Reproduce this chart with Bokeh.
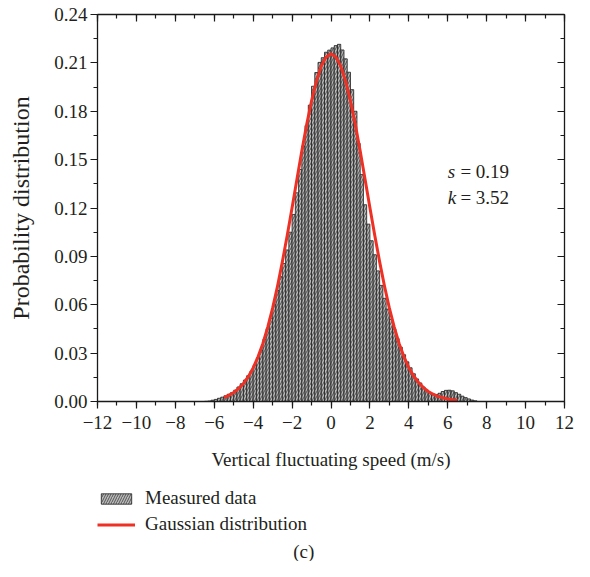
from bokeh.plotting import figure
from bokeh.layouts import column
from bokeh.models import (ColumnDataSource, Range1d, LinearAxis, SingleIntervalTicker,
                          Legend, LegendItem, Label, CustomJSTickFormatter)
from bokeh.embed import file_html
from bokeh.resources import INLINE

# ---------------- data ----------------
bin_start = -6.5
bin_width = 1.0 / 6.0
measured = [
    0.0001, 0.0003, 0.0008, 0.0013, 0.0020, 0.0027, 0.0035, 0.0045, 0.0055, 0.0070,
    0.0090, 0.0110, 0.0133, 0.0160, 0.0187, 0.0224, 0.0271, 0.0319, 0.0385, 0.0451,
    0.0517, 0.0600, 0.0688, 0.0774, 0.0856, 0.0940, 0.1050, 0.1160, 0.1294, 0.1439,
    0.1585, 0.1712, 0.1838, 0.1955, 0.2040, 0.2103, 0.2132, 0.2166, 0.2179, 0.2193,
    0.2207, 0.2215, 0.2180, 0.2125, 0.2042, 0.1934, 0.1800, 0.1600, 0.1407, 0.1220,
    0.1100, 0.0997, 0.0910, 0.0810, 0.0720, 0.0640, 0.0573, 0.0510, 0.0450, 0.0390,
    0.0337, 0.0290, 0.0246, 0.0209, 0.0172, 0.0140, 0.0115, 0.0090, 0.0070, 0.0055,
    0.0045, 0.0043, 0.0051, 0.0062, 0.0069, 0.0070, 0.0066, 0.0055, 0.0045, 0.0033,
    0.0024, 0.0016, 0.0009, 0.0004,
]
gauss_x = [-5.5, -5.25, -5.0, -4.75, -4.5, -4.25, -4.0, -3.75, -3.5, -3.25, -3.0, -2.75,
           -2.5, -2.25, -2.0, -1.75, -1.5, -1.25, -1.0, -0.75, -0.5, -0.25, 0.0,
           0.25, 0.5, 0.75, 1.0, 1.25, 1.5, 1.75, 2.0, 2.25, 2.5, 2.75, 3.0, 3.25,
           3.5, 3.75, 4.0, 4.25, 4.5, 4.75, 5.0, 5.25, 5.5, 5.75, 6.0, 6.25, 6.5]
gauss_y = [0.0026, 0.0038, 0.0056, 0.0080, 0.0112, 0.0154, 0.0208, 0.0277, 0.0360, 0.0461,
           0.0579, 0.0715, 0.0866, 0.1030, 0.1202, 0.1379, 0.1553, 0.1717, 0.1864, 0.1987,
           0.2080, 0.2137, 0.2157,
           0.2137, 0.2080, 0.1987, 0.1864, 0.1717, 0.1553, 0.1379, 0.1202, 0.1030, 0.0866,
           0.0715, 0.0579, 0.0461, 0.0360, 0.0277, 0.0210, 0.0158, 0.0118, 0.0086, 0.0062,
           0.0045, 0.0032, 0.0023, 0.0016, 0.0011, 0.0007]
skewness = "0.19"
kurtosis = "3.52"
x_ticks = [-12, -10, -8, -6, -4, -2, 0, 2, 4, 6, 8, 10, 12]
x_tick_labels = ["\u221212", "\u221210", "\u22128", "\u22126", "\u22124", "\u22122",
                 "0", "2", "4", "6", "8", "10", "12"]
y_ticks = [0.0, 0.03, 0.06, 0.09, 0.12, 0.15, 0.18, 0.21, 0.24]
y_tick_labels = ["0.00", "0.03", "0.06", "0.09", "0.12", "0.15", "0.18", "0.21", "0.24"]
series_names = ["Measured data", "Gaussian distribution"]
x_title = "Vertical fluctuating speed (m/s)"
y_title = "Probability distribution"
panel_tag = "(c)"

# ---------------- style ----------------
FONT = "Liberation Serif"
TXT = "#231f20"
RED = "#ee3124"
FS = "19px"
BAR_STYLE = dict(fill_color="#bababa", line_color="#262626", line_width=0.85,
                 hatch_pattern="/", hatch_color="#2a2a2a", hatch_scale=5, hatch_weight=0.7)
LINE_STYLE = dict(line_color=RED, line_width=3, line_join="round")

centers = [bin_start + (i + 0.5) * bin_width for i in range(len(measured))]
src = ColumnDataSource(dict(x=centers, top=measured))
gsrc = ColumnDataSource(dict(x=gauss_x, y=gauss_y))

p = figure(width=574, height=480,
           x_range=Range1d(-12, 12), y_range=Range1d(0, 0.24),
           output_backend="svg", toolbar_location=None,
           min_border_left=97, min_border_top=14, min_border_right=9, min_border_bottom=79)
p.xgrid.visible = False
p.ygrid.visible = False
p.outline_line_color = None
p.background_fill_color = "white"
p.border_fill_color = "white"

bars = p.vbar(x="x", top="top", width=bin_width, bottom=0, source=src, **BAR_STYLE)
curve = p.line(x="x", y="y", source=gsrc, **LINE_STYLE)

def style_axis(ax, labels=True, outward=True):
    ax.axis_line_color = "#1a1a1a"
    ax.axis_line_width = 1.3
    ax.major_tick_line_color = "#1a1a1a"
    ax.minor_tick_line_color = "#1a1a1a"
    ax.major_tick_line_width = 1.2
    ax.minor_tick_line_width = 1.2
    if outward:
        ax.major_tick_out, ax.major_tick_in = 7, 0
        ax.minor_tick_out, ax.minor_tick_in = 4, 0
    else:
        ax.major_tick_out, ax.major_tick_in = 0, 7
        ax.minor_tick_out, ax.minor_tick_in = 0, 4
    ax.major_label_text_font = FONT
    ax.major_label_text_font_size = FS
    ax.major_label_text_color = TXT
    ax.axis_label_text_font = FONT
    ax.axis_label_text_font_size = FS
    ax.axis_label_text_font_style = "normal"
    ax.axis_label_text_color = TXT
    if not labels:
        ax.formatter = CustomJSTickFormatter(code="return ''")

xa = p.xaxis[0]
xa.ticker = SingleIntervalTicker(interval=2, num_minor_ticks=2)
style_axis(xa)
xa.major_label_overrides = {t: l for t, l in zip(x_ticks, x_tick_labels)}
xa.major_label_standoff = 7
xa.axis_label = x_title
xa.axis_label_standoff = 17

ya = p.yaxis[0]
ya.ticker = SingleIntervalTicker(interval=0.03, num_minor_ticks=2)
style_axis(ya)
ya.major_label_overrides = {t: l for t, l in zip(y_ticks, y_tick_labels)}
ya.major_label_standoff = 3
ya.axis_label = y_title
ya.axis_label_text_font_size = "24px"
ya.axis_label_standoff = 17

top_ax = LinearAxis(ticker=SingleIntervalTicker(interval=2, num_minor_ticks=2))
style_axis(top_ax, labels=False, outward=False)
p.add_layout(top_ax, "above")
right_ax = LinearAxis(ticker=SingleIntervalTicker(interval=0.03, num_minor_ticks=2))
style_axis(right_ax, labels=False, outward=False)
p.add_layout(right_ax, "right")

# annotations s, k
for yv, sym, val in [(0.1426, "s", skewness), (0.1265, "k", kurtosis)]:
    p.add_layout(Label(x=6.0, y=yv, text=sym, text_font=FONT, text_font_size=FS,
                       text_font_style="italic", text_color=TXT, text_baseline="middle"))
    p.add_layout(Label(x=6.65, y=yv, text="= " + val, text_font=FONT, text_font_size=FS,
                       text_color=TXT, text_baseline="middle"))

# ---------------- legend + panel tag strip ----------------
# same data sources; this strip's y range lies above the data, so only the legend shows
p2 = figure(width=574, height=81, x_range=Range1d(-12, 12), y_range=Range1d(1, 2),
            output_backend="svg", toolbar_location=None,
            min_border_left=96, min_border_right=10, min_border_top=7, min_border_bottom=0)
p2.axis.visible = False
p2.grid.visible = False
p2.outline_line_color = None
p2.background_fill_color = None
p2.border_fill_color = "white"

leg_bars = p2.vbar(x="x", top="top", width=bin_width, bottom=0, source=src, **BAR_STYLE)
leg_line = p2.line(x="x", y="y", source=gsrc, **LINE_STYLE)

legend = Legend(items=[LegendItem(label=series_names[0], renderers=[leg_bars]),
                       LegendItem(label=series_names[1], renderers=[leg_line])],
                location="top_left", orientation="vertical",
                label_text_font=FONT, label_text_font_size=FS, label_text_color=TXT,
                glyph_width=38, glyph_height=13, label_height=20, spacing=4,
                label_standoff=10, padding=0, margin=0,
                border_line_color=None, background_fill_color=None)
p2.add_layout(legend, "center")

p2.add_layout(Label(x=-1.4, y=1.135, text=panel_tag, text_align="center",
                    text_baseline="middle", text_font=FONT, text_font_size=FS,
                    text_color=TXT))

open("out.html", "w").write(file_html(column(p, p2), INLINE))
